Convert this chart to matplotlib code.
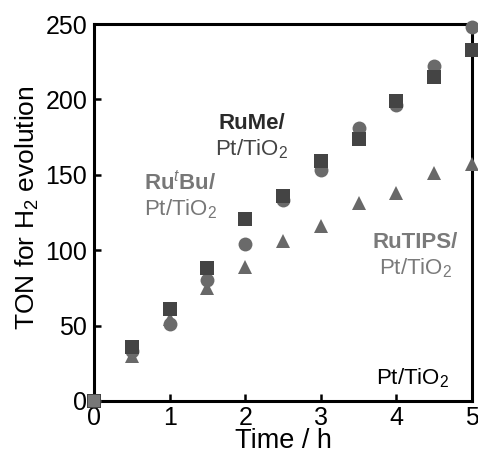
import numpy as np
import matplotlib.pyplot as plt

plt.rcParams['font.family'] = ['Liberation Sans', 'DejaVu Sans']
plt.rcParams['mathtext.fontset'] = 'custom'
plt.rcParams['mathtext.rm'] = 'Liberation Sans'
plt.rcParams['mathtext.it'] = 'Liberation Sans:italic'
plt.rcParams['mathtext.bf'] = 'Liberation Sans:bold'

# data
time = [0, 0.5, 1, 1.5, 2, 2.5, 3, 3.5, 4, 4.5, 5]
ton_rume = [0, 36, 61, 88, 121, 136, 159, 174, 199, 215, 233]
ton_rutbu = [0, 33, 51, 80, 104, 133, 153, 181, 196, 222, 248]
ton_rutips = [0, 30, 54, 75, 89, 106, 116, 131, 138, 151, 157]
time_pt = [0]
ton_pt = [0]

fig = plt.figure(figsize=(4.78, 4.55), dpi=100)
ax = fig.add_axes([0.197, 0.119, 0.79, 0.828])

ax.plot(time, ton_rutips, '^', color='#686868', ms=10.5, mew=0, clip_on=False, zorder=3)
ax.plot(time, ton_rutbu, 'o', color='#6a6a6a', ms=10, mew=0, clip_on=False, zorder=4)
ax.plot(time, ton_rume, 's', color='#444444', ms=10, mew=0, clip_on=False, zorder=5)
ax.plot(time_pt, ton_pt, 's', color='#777777', ms=9, mew=0, clip_on=False, zorder=6)

ax.set_xlim(0, 5)
ax.set_ylim(0, 250)
ax.set_xticks(range(0, 6))
ax.set_yticks(range(0, 251, 50))
ax.tick_params(direction='in', length=5, width=1.8, labelsize=18, pad=4)
ax.tick_params(axis='y', pad=5)
for s in ax.spines.values():
    s.set_linewidth(2.2)

fig.text(283 / 478, 1 - 441 / 455, 'Time / h', fontsize=19.5, ha='center', va='center')
fig.text(27 / 478, 1 - 208 / 455, 'TON for H$_2$ evolution', fontsize=19,
         rotation=90, ha='center', va='center')

fs = 16
ax.text(2.09, 184, 'RuMe/', fontsize=fs, fontweight='bold', color='#2a2a2a', ha='center', va='center')
ax.text(2.09, 167, 'Pt/TiO$_2$', fontsize=fs, color='#444444', ha='center', va='center')
ax.text(1.14, 145, r'$\mathbf{Ru}^{\mathit{t}}\mathbf{Bu/}$', fontsize=fs, color='#777777', ha='center', va='center')
ax.text(1.15, 127, 'Pt/TiO$_2$', fontsize=fs, color='#777777', ha='center', va='center')
ax.text(4.25, 105, 'RuTIPS/', fontsize=fs, fontweight='bold', color='#7a7a7a', ha='center', va='center')
ax.text(4.26, 88, 'Pt/TiO$_2$', fontsize=fs, color='#7a7a7a', ha='center', va='center')
ax.text(4.22, 15, 'Pt/TiO$_2$', fontsize=fs, color='black', ha='center', va='center')

fig.savefig('out.png', dpi=100)
